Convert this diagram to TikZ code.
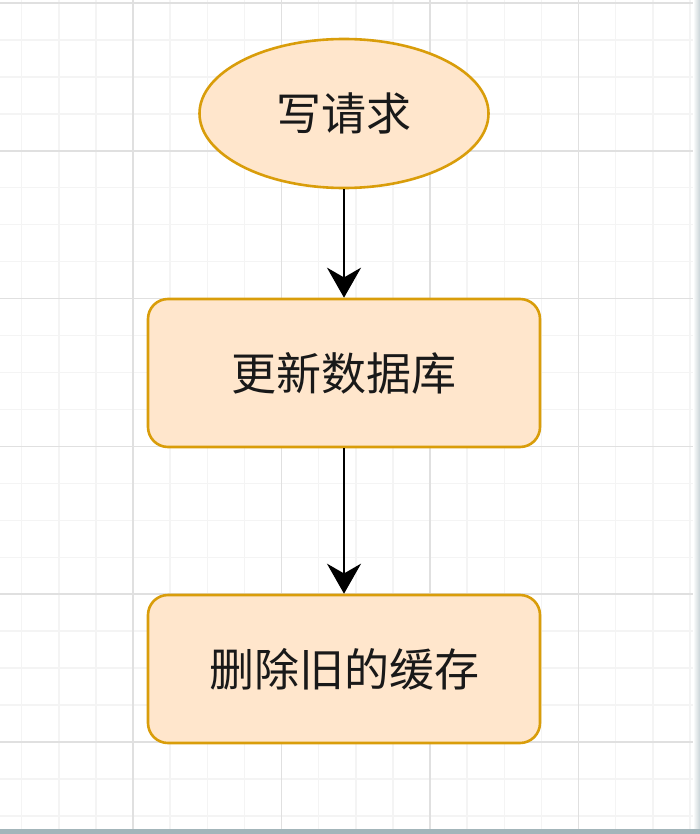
\documentclass[tikz,border=0pt]{standalone}
\usepackage{fontspec}
\newfontfamily\cjk{Noto Sans CJK SC}
\usetikzlibrary{arrows.meta,positioning,shapes.geometric}
\definecolor{boxfill}{HTML}{FFE6CC}
\definecolor{boxline}{HTML}{D99D0A}
\definecolor{gridmajor}{HTML}{E0E0E0}
\definecolor{gridminor}{HTML}{F4F4F4}
\definecolor{edgeshade}{HTML}{A3B5BA}

\begin{document}
\begin{tikzpicture}[x=1pt,y=-1pt,
  every node/.style={font=\cjk\fontsize{45}{54}\selectfont,text=black!90},
  startnode/.style={ellipse,draw=boxline,fill=boxfill,line width=2.6pt,minimum width=289pt,minimum height=149pt,inner sep=0pt},
  stepbox/.style={rectangle,rounded corners=20pt,draw=boxline,fill=boxfill,line width=2.6pt,minimum width=392pt,minimum height=148pt,inner sep=0pt},
  flow/.style={-{Stealth[length=30pt,width=34pt]},line width=2.5pt,black}]
\useasboundingbox (0,0) rectangle (700,834);
\fill[white] (0,0) rectangle (700,834);
% grid
\begin{scope}
\clip (0,0) rectangle (694,829);
\foreach \k in {-3,...,15} \draw[gridminor,line width=1.5pt] ({133+37.125*\k},0) -- ++(0,834);
\foreach \k in {0,...,22} \draw[gridminor,line width=1.5pt] (0,{3+36.95*\k}) -- ++(700,0);
\foreach \k in {-1,...,3} \draw[gridmajor,line width=1.5pt] ({133+148.5*\k},0) -- ++(0,834);
\foreach \k in {0,...,5} \draw[gridmajor,line width=1.5pt] (0,{3+147.8*\k}) -- ++(700,0);
\end{scope}
\shade[left color=white,right color=edgeshade!60] (693,0) rectangle (700,829);
\fill[edgeshade] (0,829) rectangle (700,834);

\node[startnode] (req) at (344,113.5) {写请求};
\node[stepbox] (upd) at (344,373) {更新数据库};
\node[stepbox] (del) at (344,669) {删除旧的缓存};
\draw[flow] (req) -- (upd);
\draw[flow] (upd) -- (del);
\end{tikzpicture}
\end{document}
